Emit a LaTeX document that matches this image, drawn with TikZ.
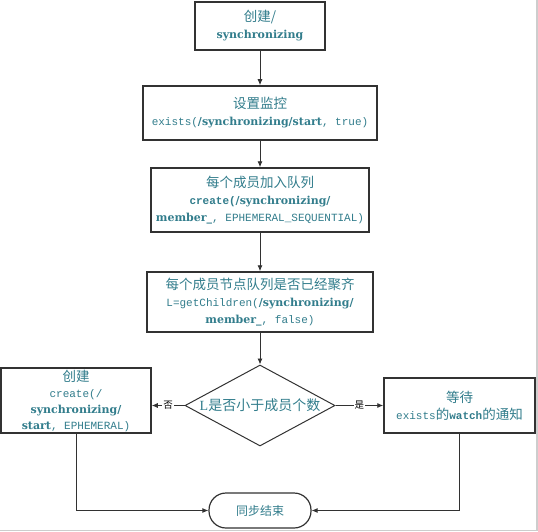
\documentclass[tikz,border=0pt]{standalone}
\usepackage{fontspec}
\setmainfont{Liberation Serif}
\setmonofont{Liberation Mono}
\newfontfamily\cjk{Noto Sans CJK SC}
\newfontfamily\bdserif{DejaVu Serif}
\usetikzlibrary{shapes.geometric,arrows.meta}
\definecolor{linec}{RGB}{50,50,50}
\definecolor{textc}{RGB}{50,125,140}
\definecolor{framec}{RGB}{205,205,205}
\newcommand\zhtxt[1]{{\cjk\fontsize{13.5}{17}\selectfont #1}}
\newcommand\motxt[1]{{\ttfamily\fontsize{11}{17}\selectfont #1}}
\newcommand\bdtxt[1]{{\bdserif\bfseries\fontsize{11}{17}\selectfont #1}}
\begin{document}
\begin{tikzpicture}[x=1pt,y=-1pt,
  box/.style={draw=linec, line width=1.5pt, fill=white, text=textc, align=center,
    inner sep=0pt, font=\fontsize{10}{17}\selectfont},
  conn/.style={draw=linec, line width=0.9pt, -{Latex[length=6pt,width=5pt]}},
  lab/.style={fill=white, inner sep=1pt, text=black, font=\cjk\fontsize{9.5}{10}\selectfont}]
\useasboundingbox (0,0) rectangle (538,532);
\draw[framec, line width=1.5pt] (0,530.5) -- (537,530.5) -- (537,0);

\node[box, minimum width=130, minimum height=48] (b1) at (260,26)
  {\zhtxt{创建/}\\\bdtxt{synchronizing}};
\node[box, minimum width=234, minimum height=54] (b2) at (260,113)
  {\zhtxt{设置监控}\\\motxt{exists(}\bdtxt{/synchronizing/start}\motxt{, true)}};
\node[box, minimum width=218, minimum height=64] (b3) at (260,200)
  {\zhtxt{每个成员加入队列}\\\motxt{\bfseries create(}\bdtxt{/synchronizing/}\\\bdtxt{member\_}\motxt{, EPHEMERAL\_SEQUENTIAL)}};
\node[box, minimum width=226, minimum height=60] (b4) at (260,302)
  {\zhtxt{每个成员节点队列是否已经聚齐}\\\motxt{L=getChildren(}\bdtxt{/synchronizing/}\\\bdtxt{member\_}\motxt{, false)}};
\node[draw=linec, line width=1pt, shape=diamond, minimum width=150, minimum height=81,
  inner sep=0pt] (d) at (260,405.5) {};
\node[text=textc, inner sep=0pt] (dt) at (d.center)
  {{\fontsize{14}{17}\selectfont L}{\cjk\fontsize{14}{17}\selectfont 是否小于成员个数}};
\node[box, minimum width=150, minimum height=65, font=\fontsize{10}{16}\selectfont] (lb) at (76,400.5)
  {\zhtxt{创建}\\\motxt{create(/}\\\bdtxt{synchronizing/}\\\bdtxt{start}\motxt{, EPHEMERAL)}};
\node[box, minimum width=151, minimum height=55] (rb) at (459.5,405.5)
  {\zhtxt{等待}\\\motxt{exists}\zhtxt{的}\motxt{\bfseries watch}\zhtxt{的通知}};
\node[box, rounded corners=17pt, minimum width=102, minimum height=35, line width=1.2pt] (t) at (260,510.5)
  {{\cjk\fontsize{12}{14}\selectfont 同步结束}};

\draw[conn] (b1) -- (b2);
\draw[conn] (b2) -- (b3);
\draw[conn] (b3) -- (b4);
\draw[conn] (b4) -- (d);
\draw[conn] (d.west) -- node[lab] {否} (d.west -| lb.east);
\draw[conn] (d.east) -- node[lab] {是} (d.east -| rb.west);
\draw[conn] (lb.south) |- (t.west);
\draw[conn] (rb.south) |- (t.east);
\end{tikzpicture}
\end{document}
